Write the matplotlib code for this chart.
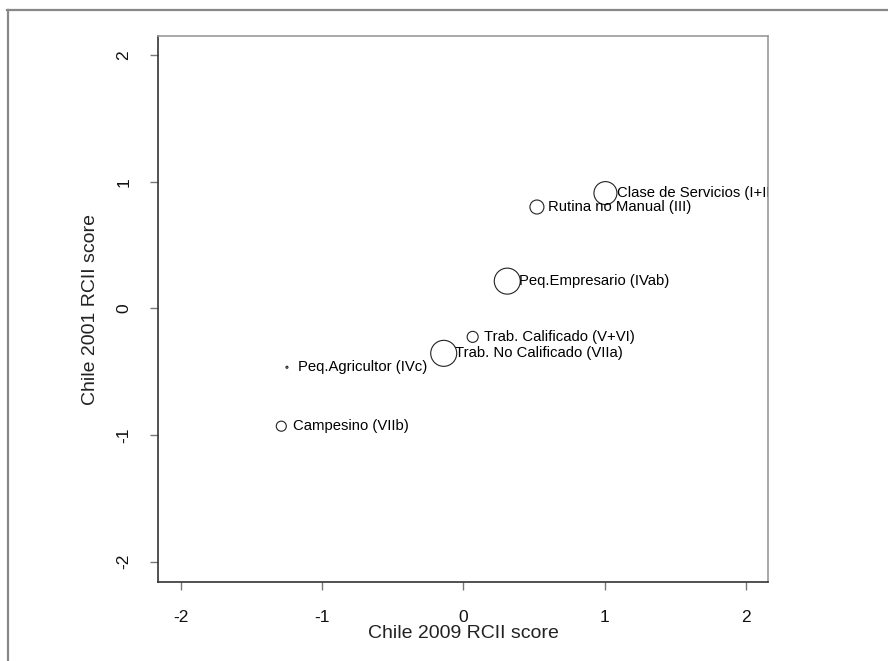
import matplotlib
matplotlib.use("Agg")
import matplotlib.pyplot as plt
from matplotlib.lines import Line2D
from matplotlib.transforms import ScaledTranslation

# Data
labels = ["Clase de Servicios (I+II)", "Rutina no Manual (III)", "Peq.Empresario (IVab)",
          "Trab. Calificado (V+VI)", "Trab. No Calificado (VIIa)", "Peq.Agricultor (IVc)",
          "Campesino (VIIb)"]
score_2009 = [1.005, 0.52, 0.31, 0.065, -0.14, -1.25, -1.29]
score_2001 = [0.91, 0.80, 0.215, -0.225, -0.355, -0.465, -0.93]
weight = [78, 29, 100, 18, 100, 0.6, 15]

x_ticks = [-2, -1, 0, 1, 2]
y_ticks = [-2, -1, 0, 1, 2]
x_label = "Chile 2009 RCII score"
y_label = "Chile 2001 RCII score"

plt.rcParams['font.family'] = ['Liberation Sans', 'DejaVu Sans']

W, H = 888, 661
fig = plt.figure(figsize=(W / 100, H / 100), dpi=100)
ax = fig.add_axes([158 / W, 1 - 582 / H, (768 - 158) / W, (582 - 36) / H])

# bubble sizes: diameter 26px for weight 100
diam_pt = [26 * 0.72 * (w / 100) ** 0.5 for w in weight]
ax.scatter(score_2009, score_2001, s=[d ** 2 for d in diam_pt], facecolors='none',
           edgecolors='#222222', linewidths=0.8, zorder=3)
offset = ax.transData + ScaledTranslation(8.2 / 72, 0, fig.dpi_scale_trans)
for xv, yv, lab in zip(score_2009, score_2001, labels):
    ax.text(xv, yv, lab, transform=offset, ha='left', va='center', fontsize=10.7,
            color='black', clip_on=True, zorder=4)

ax.set_xlim(-2.163, 2.156)
ax.set_ylim(-2.16, 2.15)
ax.set_xticks(x_ticks)
ax.set_yticks(y_ticks)
ax.set_xticklabels([str(v) for v in x_ticks])
ax.set_yticklabels([str(v) for v in y_ticks], rotation=90, va='center')
ax.tick_params(direction='out', length=6, width=1, colors='#777777',
               labelcolor='#111111', labelsize=12.5)
ax.tick_params(axis='x', pad=14)
ax.tick_params(axis='y', pad=13)

for side in ['left', 'bottom']:
    ax.spines[side].set_color('#333333')
    ax.spines[side].set_linewidth(1.2)
for side in ['top', 'right']:
    ax.spines[side].set_color('#999999')
    ax.spines[side].set_linewidth(1.2)

ax.set_xlabel(x_label, fontsize=14, color='#222222')
ax.set_ylabel(y_label, fontsize=14, color='#222222')
ax.xaxis.set_label_coords(0.5, -(625 - 582) / 546)
ax.yaxis.set_label_coords(-(158 - 99) / 610, 0.5)

# outer frame
fig.add_artist(Line2D([7 / W, 1.0], [1 - 10 / H, 1 - 10 / H], color='#888888', lw=1.6,
                      transform=fig.transFigure))
fig.add_artist(Line2D([8 / W, 8 / W], [1 - 10 / H, 0.0], color='#888888', lw=1.6,
                      transform=fig.transFigure))

fig.savefig("out.png", dpi=100)
